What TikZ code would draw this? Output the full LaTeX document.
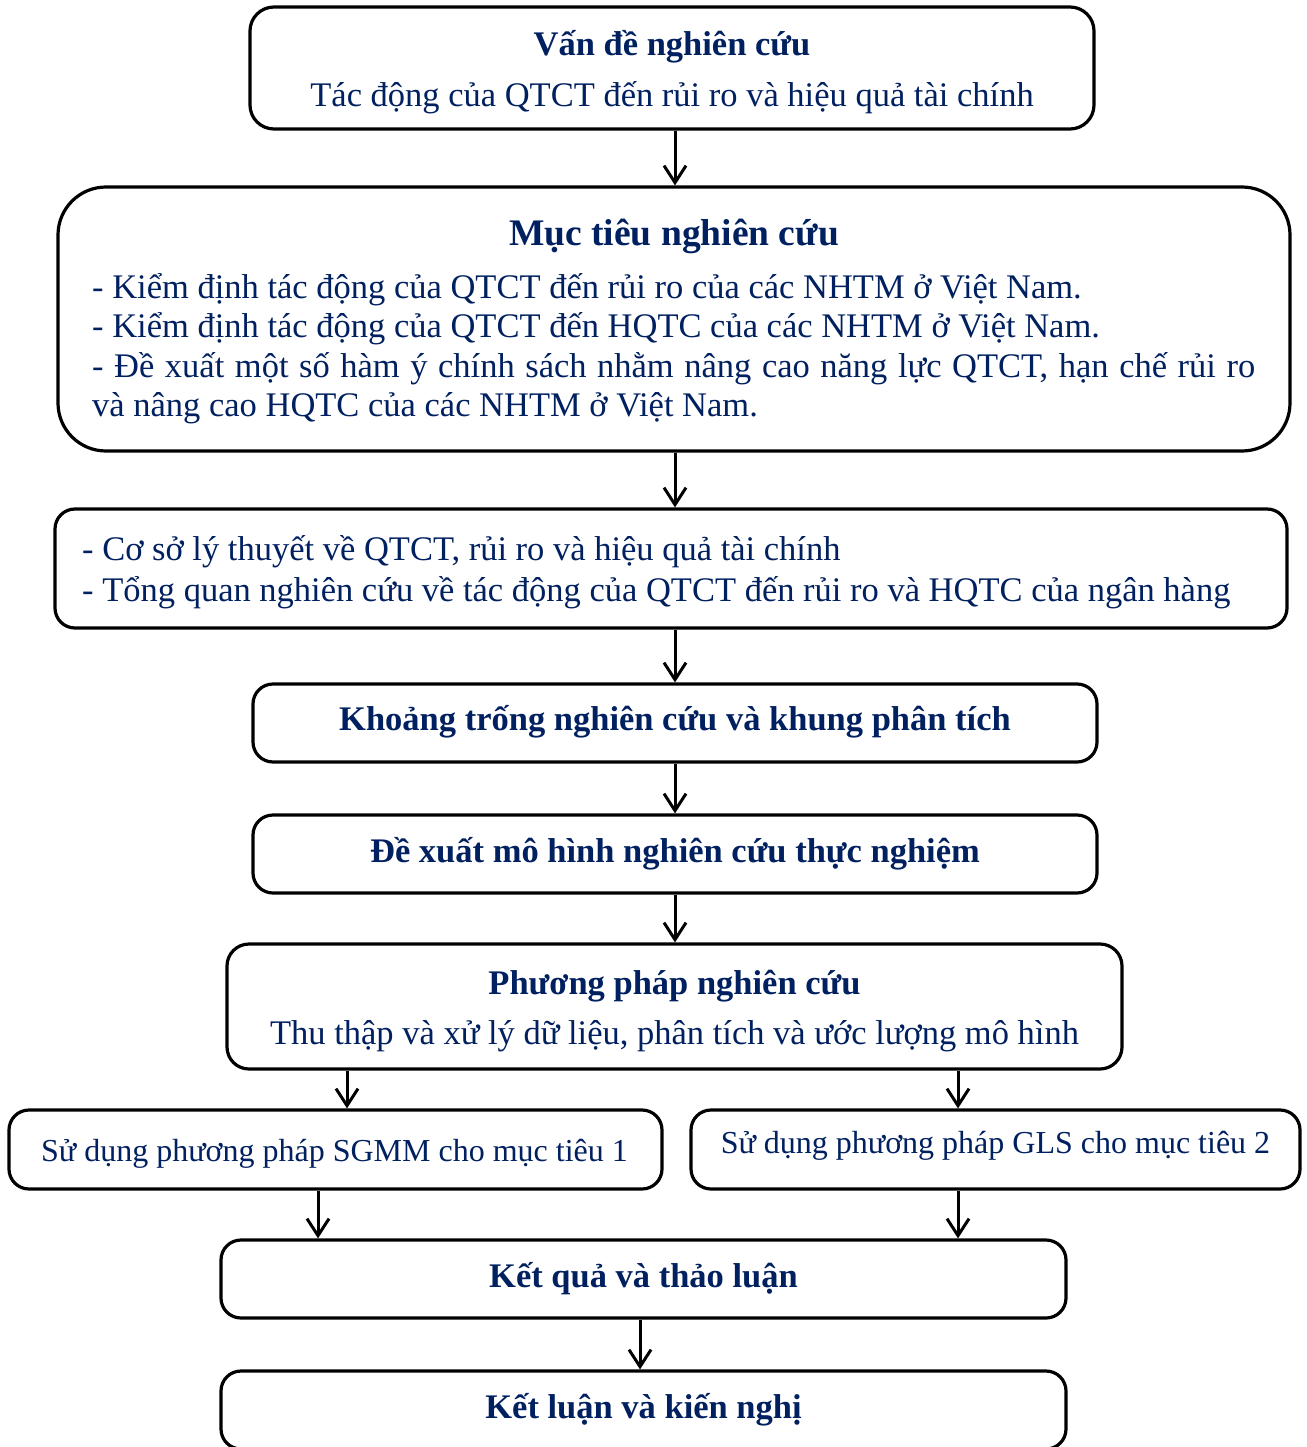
\documentclass[tikz,border=0pt]{standalone}
\usepackage{fontspec}
\setmainfont{Liberation Serif}
\usetikzlibrary{arrows.meta}
\definecolor{navy}{RGB}{0,32,96}
\begin{document}
\begin{tikzpicture}[x=1pt,y=-1pt,
  rbox/.style={draw=black, line width=3.2pt, rounded corners=#1, inner sep=0pt, fill=white},
  rbox/.default=20pt,
  bodytxt/.style={inner sep=0pt, anchor=base, text=navy, font=\fontsize{34.5}{39.7}\selectfont},
  lefttxt/.style={bodytxt, anchor=base west},
  smalltxt/.style={bodytxt, font=\fontsize{32}{37}\selectfont},
  titletxt/.style={bodytxt, font=\fontsize{34.5}{39.7}\selectfont\bfseries},
  arrw/.style={-{Straight Barb[length=17pt,width=22pt]}, line width=3pt}]
\useasboundingbox (0,0) rectangle (1306,1447);

% boxes
\node[rbox=24pt, minimum width=844, minimum height=122] (b1) at (672,68) {};
\node[rbox=48pt, minimum width=1232, minimum height=264] (b2) at (674,319) {};
\node[rbox=20pt, minimum width=1232, minimum height=119] (b3) at (671,568.5) {};
\node[rbox, minimum width=844, minimum height=78] (b4) at (675,723) {};
\node[rbox, minimum width=844, minimum height=78] (b5) at (675,854) {};
\node[rbox=22pt, minimum width=895, minimum height=125] (b6) at (674.5,1006.5) {};
\node[rbox, minimum width=653, minimum height=79] (b7) at (335.5,1149.5) {};
\node[rbox, minimum width=609, minimum height=79] (b8) at (995.5,1149.5) {};
\node[rbox, minimum width=845, minimum height=78] (b9) at (643.5,1279) {};
\node[rbox, minimum width=845, minimum height=78] (b10) at (643.5,1410) {};

% texts
\node[titletxt] (t1a) at (672,56) {Vấn đề nghiên cứu};
\node[bodytxt] (t1b) at (672,107) {Tác động của QTCT đến rủi ro và hiệu quả tài chính};

\node[titletxt, font=\fontsize{37.5}{43}\selectfont\bfseries] (t2a) at (674,246) {Mục tiêu nghiên cứu};
\node[lefttxt] (t2b) at (92,298) {- Kiểm định tác động của QTCT đến rủi ro của các NHTM ở Việt Nam.};
\node[lefttxt] (t2c) at (92,337.5) {- Kiểm định tác động của QTCT đến HQTC của các NHTM ở Việt Nam.};
\node[lefttxt] (t2d) at (92,377) {\makebox[1163pt][s]{- Đề xuất một số hàm ý chính sách nhằm nâng cao năng lực QTCT, hạn chế rủi ro}};
\node[lefttxt] (t2e) at (92,416.5) {và nâng cao HQTC của các NHTM ở Việt Nam.};

\node[lefttxt] (t3a) at (82,560) {- Cơ sở lý thuyết về QTCT, rủi ro và hiệu quả tài chính};
\node[lefttxt] (t3b) at (82,601) {- Tổng quan nghiên cứu về tác động của QTCT đến rủi ro và HQTC của ngân hàng};

\node[titletxt] (t4) at (675,730) {Khoảng trống nghiên cứu và khung phân tích};
\node[titletxt] (t5) at (675,862) {Đề xuất mô hình nghiên cứu thực nghiệm};

\node[titletxt] (t6a) at (674.5,994) {Phương pháp nghiên cứu};
\node[bodytxt] (t6b) at (674.5,1044) {Thu thập và xử lý dữ liệu, phân tích và ước lượng mô hình};

\node[smalltxt] (t7) at (334.5,1161) {Sử dụng phương pháp SGMM cho mục tiêu 1};
\node[smalltxt] (t8) at (995.5,1153) {Sử dụng phương pháp GLS cho mục tiêu 2};

\node[titletxt] (t9) at (643.5,1287) {Kết quả và thảo luận};
\node[titletxt] (t10) at (643.5,1418) {Kết luận và kiến nghị};

% connector columns
\coordinate (c1) at (675,0);
\coordinate (c2) at (347,0);
\coordinate (c3) at (958,0);
\coordinate (c4) at (318,0);
\coordinate (c5) at (640,0);

\draw[arrw] (c1 |- b1.south) -- (c1 |- b2.north);
\draw[arrw] (c1 |- b2.south) -- (c1 |- b3.north);
\draw[arrw] (c1 |- b3.south) -- (c1 |- b4.north);
\draw[arrw] (c1 |- b4.south) -- (c1 |- b5.north);
\draw[arrw] (c1 |- b5.south) -- (c1 |- b6.north);
\draw[arrw] (c2 |- b6.south) -- (c2 |- b7.north);
\draw[arrw] (c3 |- b6.south) -- (c3 |- b8.north);
\draw[arrw] (c4 |- b7.south) -- (c4 |- b9.north);
\draw[arrw] (c3 |- b8.south) -- (c3 |- b9.north);
\draw[arrw] (c5 |- b9.south) -- (c5 |- b10.north);
\end{tikzpicture}
\end{document}
